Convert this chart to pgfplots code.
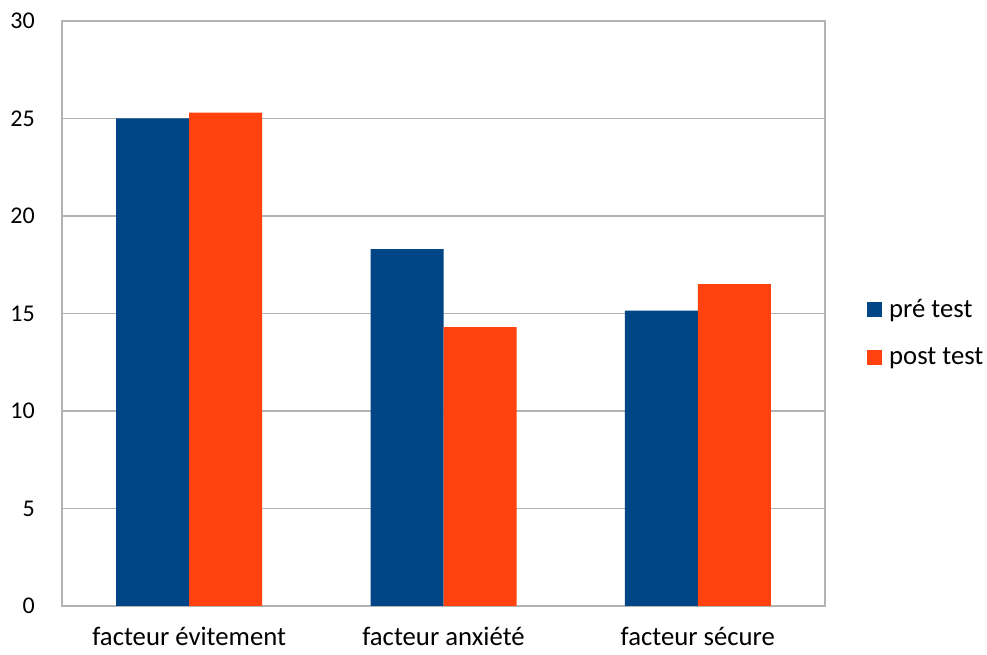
\documentclass[border=0pt]{standalone}
\usepackage{pgfplots}
\pgfplotsset{compat=1.18}
\usepackage{fontspec}
\setmainfont{Carlito}

\definecolor{preblue}{HTML}{004586}
\definecolor{postorange}{HTML}{FF420E}
\definecolor{gridgray}{HTML}{B3B3B3}

\begin{document}
\begin{tikzpicture}[x=1bp,y=1bp]
    \useasboundingbox (0,0) rectangle (987,655);
    \begin{axis}[
        at={(62bp,49bp)}, anchor=south west,
        scale only axis,
        width=763bp, height=585bp,
        xmin=-0.5, xmax=2.5,
        ymin=0, ymax=30,
        ytick={0,5,...,30},
        xtick={0,1,2},
        xticklabels={facteur évitement, facteur anxiété, facteur sécure},
        major tick length=0pt,
        ymajorgrids,
        grid style={gridgray, line width=1.2bp},
        axis line style={gridgray, line width=1.2bp},
        font=\fontsize{26.7bp}{32bp}\selectfont,
        /pgf/number format/assume math mode=true,
        yticklabel style={anchor=east, inner sep=0pt, xshift=-27bp,
            font=\fontsize{24bp}{29bp}\selectfont},
        xticklabel style={anchor=north, inner sep=0pt, yshift=-21bp},
        ybar=0pt, bar width=0.287,
        legend style={draw=none, fill=none, at={(1.055,0.467)}, anchor=west,
            inner sep=0pt, row sep=29bp,
            nodes={inner sep=0pt, anchor=base west}},
        legend cell align=left,
        legend image code/.code={\fill[#1] (0bp,0bp) rectangle (15bp,15bp);},
        legend style={/tikz/every odd column/.append style={column sep=7bp}},
    ]
    \addplot[fill=preblue, draw=none, bar shift=-0.1435] coordinates {
        (0, 25.0) (1, 18.3) (2, 15.15)
    };
    \addplot[fill=postorange, draw=none, bar shift=0.1435] coordinates {
        (0, 25.3) (1, 14.3) (2, 16.5)
    };
    \legend{pré test, post test}
    \end{axis}
\end{tikzpicture}
\end{document}
